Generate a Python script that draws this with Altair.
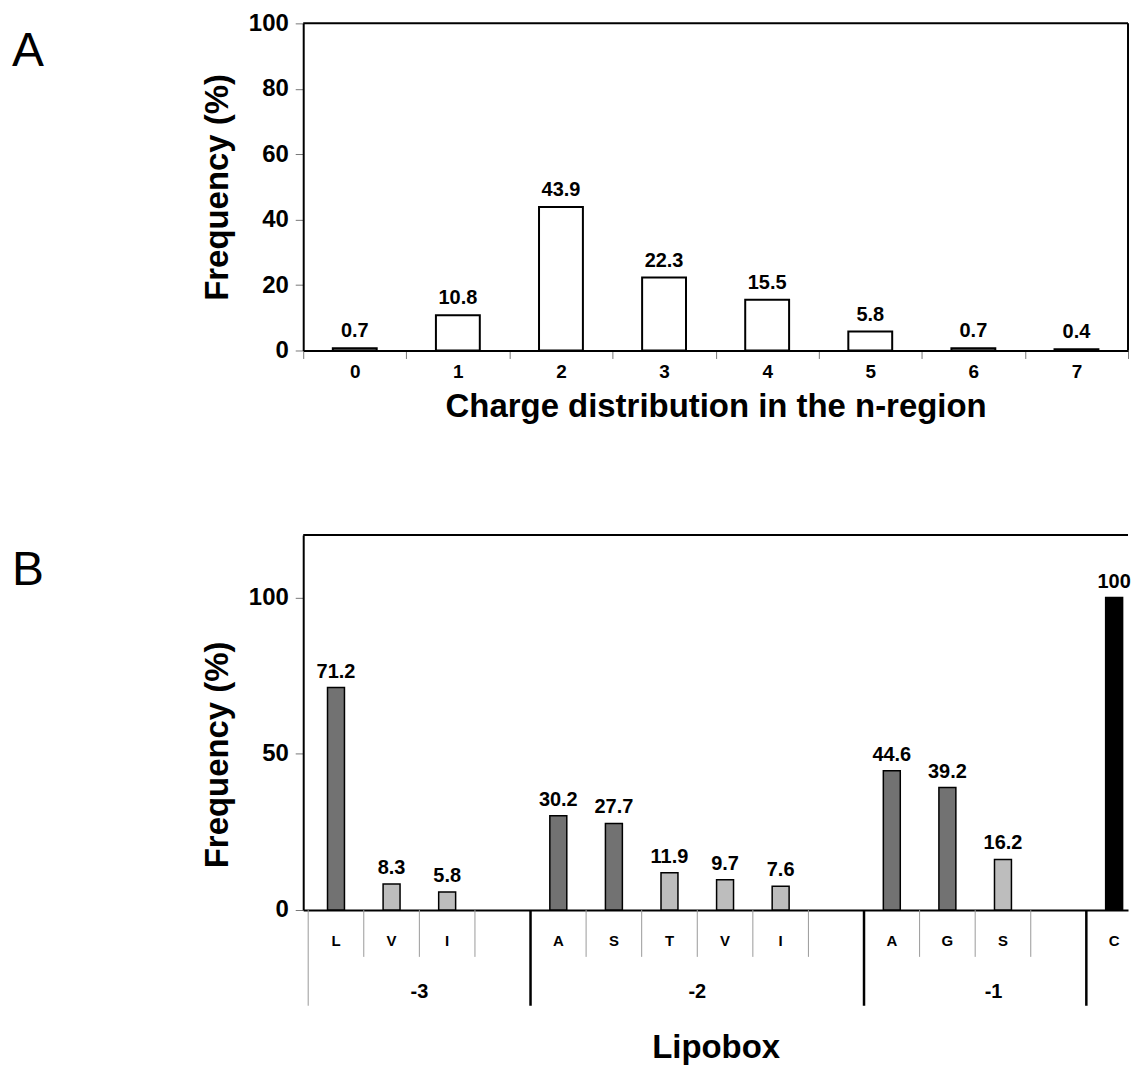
import altair as alt
import pandas as pd

# ---------------- Panel A data ----------------
charge = ["0", "1", "2", "3", "4", "5", "6", "7"]
charge_freq = [0.7, 10.8, 43.9, 22.3, 15.5, 5.8, 0.7, 0.4]

# ---------------- Panel B data ----------------
slot = list(range(15))
residue = ["L", "V", "I", "", "A", "S", "T", "V", "I", "", "A", "G", "S", "", "C"]
lipo_freq = [71.2, 8.3, 5.8, None, 30.2, 27.7, 11.9, 9.7, 7.6, None, 44.6, 39.2, 16.2, None, 100]
shade = ["dark", "light", "light", "", "dark", "dark", "light", "light", "light", "",
         "dark", "dark", "light", "", "black"]
position = ["-3", "-2", "-1"]
group_start = [0, 4, 10]
group_end = [4, 10, 14.66]
boundary = list(range(15))
boundary_kind = ["outer", "minor", "minor", "minor", "group", "minor", "minor", "minor",
                 "minor", "minor", "group", "minor", "minor", "minor", "group"]

FONT = "Liberation Sans"
W = 827
HA = 328
HB = 376
XMAX_B = 14.66

# ================= Panel A =================
dfA = pd.DataFrame({"charge": charge, "freq": charge_freq,
                    "label": [f"{v:.1f}" for v in charge_freq]})

xA = alt.X("charge:N", sort=None,
           scale=alt.Scale(paddingInner=0, paddingOuter=0),
           axis=alt.Axis(title="Charge distribution in the n-region", labelAngle=0,
                         tickBand="extent", tickSize=8, tickColor="#777", tickWidth=1,
                         domainColor="black", domainWidth=2,
                         labelFont=FONT, labelFontSize=19, labelFontWeight="bold",
                         labelColor="black", labelPadding=4,
                         titleFont=FONT, titleFontSize=33, titleFontWeight="bold",
                         titleColor="black", titlePadding=9))
yA = alt.Y("freq:Q", scale=alt.Scale(domain=[0, 100], nice=False),
           axis=alt.Axis(values=[0, 20, 40, 60, 80, 100], title="Frequency (%)", grid=False,
                         tickSize=8, tickColor="#777", tickWidth=1,
                         domainColor="black", domainWidth=2,
                         labelFont=FONT, labelFontSize=24, labelFontWeight="bold",
                         labelColor="black", labelPadding=7,
                         titleFont=FONT, titleFontSize=33, titleFontWeight="bold",
                         titleColor="black", titlePadding=14))

barsA = alt.Chart(dfA).mark_bar(width=44, fill="white", stroke="black", strokeWidth=2).encode(
    x=xA, y=yA)
textA = alt.Chart(dfA).mark_text(baseline="bottom", dy=-7, font=FONT, fontSize=20,
                                 fontWeight="bold", color="black").encode(
    x=alt.X("charge:N", sort=None), y="freq:Q", text="label:N")

one = pd.DataFrame({"t": ["A"]})
topA = alt.Chart(one).mark_rule(color="black", strokeWidth=2).encode(
    x=alt.value(0), x2=alt.value(W), y=alt.value(0))
rightA = alt.Chart(one).mark_rule(color="black", strokeWidth=2).encode(
    x=alt.value(W), y=alt.value(0), y2=alt.value(HA))
labelA = alt.Chart(one).mark_text(align="left", baseline="alphabetic", font=FONT,
                                  fontSize=48, color="black").encode(
    x=alt.value(-292), y=alt.value(43), text="t:N")

panelA = alt.layer(barsA, textA, topA, rightA, labelA).properties(width=W, height=HA)

# ================= Panel B =================
dfB = pd.DataFrame({"slot": slot, "residue": residue, "freq": lipo_freq, "shade": shade})
dfB["center"] = dfB["slot"] + 0.5
bars_df = dfB.dropna(subset=["freq"]).copy()
bars_df["label"] = [f"{v:g}" for v in bars_df["freq"]]
letters_df = dfB[dfB["residue"] != ""]

xscaleB = alt.Scale(domain=[0, XMAX_B], nice=False, zero=False)
xaxisB = alt.Axis(title="Lipobox", labels=False, ticks=False, grid=False,
                  domainColor="black", domainWidth=2,
                  titleFont=FONT, titleFontSize=33, titleFontWeight="bold",
                  titleColor="black", titlePadding=122)
yB = alt.Y("freq:Q", scale=alt.Scale(domain=[0, 120], nice=False),
           axis=alt.Axis(values=[0, 50, 100], title="Frequency (%)", grid=False,
                         tickSize=8, tickColor="#777", tickWidth=1,
                         domainColor="black", domainWidth=2,
                         labelFont=FONT, labelFontSize=24, labelFontWeight="bold",
                         labelColor="black", labelPadding=7,
                         titleFont=FONT, titleFontSize=33, titleFontWeight="bold",
                         titleColor="black", titlePadding=14, titleY=220))


def xb(field):
    return alt.X(field, scale=xscaleB, axis=xaxisB)


barsB = alt.Chart(bars_df).mark_bar(size=17, stroke="black", strokeWidth=1.5).encode(
    x=xb("center:Q"), y=yB,
    color=alt.Color("shade:N", legend=None,
                    scale=alt.Scale(domain=["dark", "light", "black"],
                                    range=["#727272", "#bdbdbd", "#000000"])))
textB = alt.Chart(bars_df).mark_text(baseline="bottom", dy=-6, font=FONT, fontSize=20,
                                     fontWeight="bold", color="black").encode(
    x=xb("center:Q"), y="freq:Q", text="label:N")

dfBound = pd.DataFrame({"boundary": boundary, "kind": boundary_kind})
minor = alt.Chart(dfBound).transform_filter(alt.datum.kind == "minor").mark_rule(
    color="#9a9a9a", strokeWidth=1).encode(
    x=xb("boundary:Q"), y=alt.value(HB), y2=alt.value(HB + 47))
outer = alt.Chart(dfBound).transform_filter(alt.datum.kind == "outer").mark_rule(
    color="#9a9a9a", strokeWidth=1).encode(
    x=xb("boundary:Q"), y=alt.value(HB), y2=alt.value(HB + 96))
groupln = alt.Chart(dfBound).transform_filter(alt.datum.kind == "group").mark_rule(
    color="black", strokeWidth=2.5).encode(
    x=xb("boundary:Q"), y=alt.value(HB), y2=alt.value(HB + 96))

letters = alt.Chart(letters_df).mark_text(font=FONT, fontSize=15, fontWeight="bold",
                                          color="black", baseline="middle").encode(
    x=xb("center:Q"), y=alt.value(HB + 31), text="residue:N")

dfG = pd.DataFrame({"position": position, "start": group_start, "end": group_end})
groups = alt.Chart(dfG).transform_calculate(mid="(datum.start + datum.end) / 2").mark_text(
    font=FONT, fontSize=20, fontWeight="bold", color="black", baseline="middle").encode(
    x=xb("mid:Q"), y=alt.value(HB + 82), text="position:N")

oneB = pd.DataFrame({"t": ["B"]})
topB = alt.Chart(oneB).mark_rule(color="black", strokeWidth=2).encode(
    x=alt.value(0), x2=alt.value(W), y=alt.value(0))
labelB = alt.Chart(oneB).mark_text(align="left", baseline="alphabetic", font=FONT,
                                   fontSize=48, color="black").encode(
    x=alt.value(-292), y=alt.value(50), text="t:N")

panelB = alt.layer(barsB, textB, minor, outer, groupln, letters, groups, topB, labelB).properties(
    width=W, height=HB)

chart = alt.vconcat(panelA, panelB, spacing=111).configure_view(stroke=None).properties(
    padding={"left": 4, "top": 2, "right": 0, "bottom": 0})

chart.save("out.html", embed_options={"renderer": "svg", "actions": False})
